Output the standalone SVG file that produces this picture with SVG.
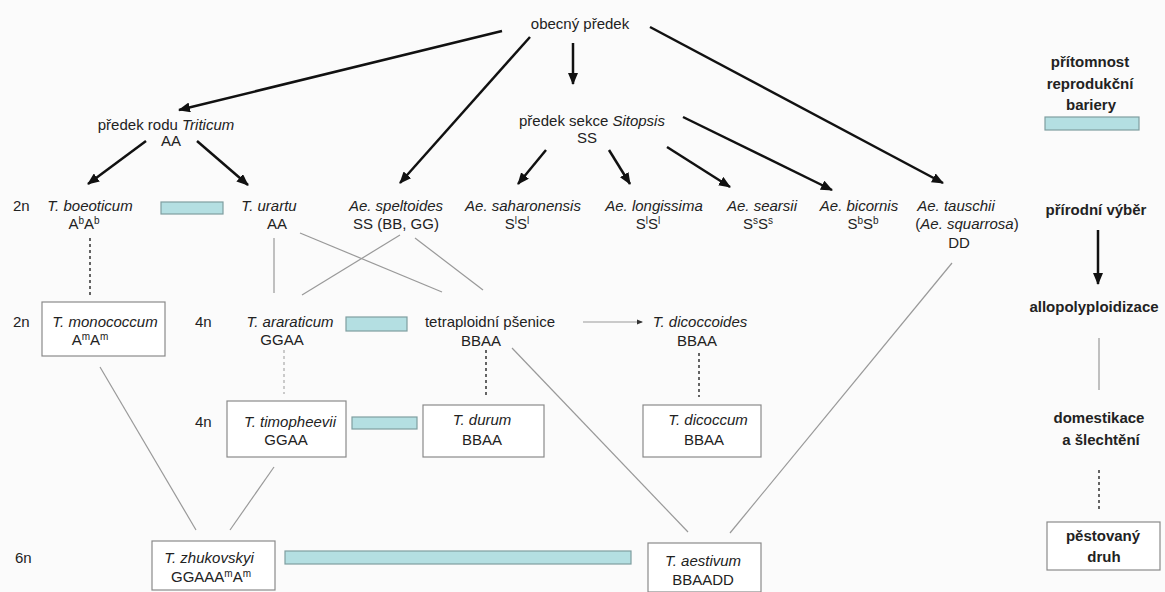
<svg xmlns="http://www.w3.org/2000/svg" width="1165" height="592" viewBox="0 0 1165 592">
<defs>
<marker id="ah" markerUnits="userSpaceOnUse" markerWidth="12" markerHeight="10" refX="11" refY="5" orient="auto">
<path d="M0,0 L12,5 L0,10 z" fill="#111"/>
</marker>
<marker id="ahs" markerUnits="userSpaceOnUse" markerWidth="6" markerHeight="6" refX="5" refY="3" orient="auto">
<path d="M0,0.5 L6,3 L0,5.5 z" fill="#333"/>
</marker>
<style>
text{font-family:"Liberation Sans",Arial,sans-serif;font-size:15px;fill:#222;text-anchor:middle}
.l{text-anchor:start}
.i{font-style:italic}
.b{font-weight:bold;font-size:15px}
.thick{stroke:#111;stroke-width:2.5;fill:none;marker-end:url(#ah)}
.thin{stroke:#999;stroke-width:1.2;fill:none}
.dash{stroke:#333;stroke-width:1.5;stroke-dasharray:3 3;fill:none}
.dashl{stroke:#aaa;stroke-width:1.2;stroke-dasharray:3 3;fill:none}
.bar{fill:#b4dfe2;stroke:#7f9ea0;stroke-width:1.2}
.box{fill:#fff;stroke:#8a8a8a;stroke-width:1.2}
</style>
</defs>
<rect width="1165" height="592" fill="#fbfbfb"/>

<g id="connectors">
<line class="thick" x1="502" y1="31" x2="179" y2="110"/>
<line class="thick" x1="530" y1="37" x2="400" y2="183"/>
<line class="thick" x1="573" y1="43" x2="573" y2="84"/>
<line class="thick" x1="650" y1="27" x2="943" y2="183"/>
<line class="thick" x1="146" y1="141" x2="88" y2="184"/>
<line class="thick" x1="197" y1="141" x2="248" y2="185"/>
<line class="thick" x1="546" y1="150" x2="518" y2="184"/>
<line class="thick" x1="609" y1="150" x2="630" y2="184"/>
<line class="thick" x1="667" y1="147" x2="730" y2="187"/>
<line class="thick" x1="683" y1="117" x2="832" y2="190"/>
<line class="thick" x1="1098" y1="230" x2="1098" y2="284"/>

<line class="thin" x1="274" y1="238" x2="274" y2="293"/>
<line class="thin" x1="300" y1="233" x2="442" y2="292"/>
<line class="thin" x1="400" y1="235" x2="302" y2="295"/>
<line class="thin" x1="415" y1="238" x2="483" y2="290"/>
<line class="thin" x1="100" y1="367" x2="196" y2="530"/>
<line class="thin" x1="274" y1="467" x2="230" y2="530"/>
<line class="thin" x1="512" y1="348" x2="688" y2="532"/>
<line class="thin" x1="952" y1="263" x2="730" y2="533"/>
<line class="thin" x1="1099" y1="338" x2="1099" y2="390"/>
<line class="thin" x1="583" y1="322" x2="642" y2="322" style="marker-end:url(#ahs)"/>

<line class="dash" x1="90" y1="238" x2="90" y2="297"/>
<line class="dashl" x1="284" y1="350" x2="284" y2="394"/>
<line class="dash" x1="486" y1="350" x2="486" y2="397"/>
<line class="dash" x1="699" y1="353" x2="699" y2="397"/>
<line class="dash" x1="1099" y1="470" x2="1099" y2="512"/>
</g>

<g id="bars">
<rect class="bar" x="161" y="202" width="62" height="12"/>
<rect class="bar" x="346" y="317" width="61" height="14"/>
<rect class="bar" x="352" y="417" width="65" height="12"/>
<rect class="bar" x="285" y="551" width="346" height="13"/>
</g>

<g id="ploidy">
<text class="l" x="13" y="211">2n</text>
<text class="l" x="13" y="327">2n</text>
<text class="l" x="195" y="327">4n</text>
<text class="l" x="195" y="427">4n</text>
<text class="l" x="15" y="563">6n</text>
</g>

<g id="n-obecny"><text x="580" y="29">obecný předek</text></g>
<g id="n-triticum"><text x="166" y="130">předek rodu <tspan class="i">Triticum</tspan></text><text x="171" y="146">AA</text></g>
<g id="n-sitopsis"><text x="592" y="126">předek sekce <tspan class="i">Sitopsis</tspan></text><text x="587" y="143">SS</text></g>

<g id="n-boeoticum"><text class="i" x="90" y="211">T. boeoticum</text><text x="84" y="229">A<tspan font-size="10" dy="-5">b</tspan><tspan dy="5">A</tspan><tspan font-size="10" dy="-5">b</tspan></text></g>
<g id="n-urartu"><text class="i" x="269" y="211">T. urartu</text><text x="277" y="229">AA</text></g>
<g id="n-speltoides"><text class="i" x="396" y="211">Ae. speltoides</text><text x="396" y="229">SS (BB, GG)</text></g>
<g id="n-saharonensis"><text class="i" x="523" y="211">Ae. saharonensis</text><text x="517" y="229">S<tspan font-size="10" dy="-5">l</tspan><tspan dy="5">S</tspan><tspan font-size="10" dy="-5">l</tspan></text></g>
<g id="n-longissima"><text class="i" x="654" y="211">Ae. longissima</text><text x="648" y="229">S<tspan font-size="10" dy="-5">l</tspan><tspan dy="5">S</tspan><tspan font-size="10" dy="-5">l</tspan></text></g>
<g id="n-searsii"><text class="i" x="762" y="211">Ae. searsii</text><text x="758" y="229">S<tspan font-size="10" dy="-5">s</tspan><tspan dy="5">S</tspan><tspan font-size="10" dy="-5">s</tspan></text></g>
<g id="n-bicornis"><text class="i" x="859" y="211">Ae. bicornis</text><text x="863" y="229">S<tspan font-size="10" dy="-5">b</tspan><tspan dy="5">S</tspan><tspan font-size="10" dy="-5">b</tspan></text></g>
<g id="n-tauschii"><text class="i" x="956" y="211">Ae. tauschii</text><text x="967" y="229">(<tspan class="i">Ae. squarrosa</tspan>)</text><text x="959" y="248">DD</text></g>

<g id="n-monococcum"><rect class="box" x="42" y="302" width="123" height="54"/><text class="i" x="105" y="327">T. monococcum</text><text x="90" y="345">A<tspan font-size="10" dy="-5">m</tspan><tspan dy="5">A</tspan><tspan font-size="10" dy="-5">m</tspan></text></g>
<g id="n-araraticum"><text class="i" x="290" y="327">T. araraticum</text><text x="282" y="345">GGAA</text></g>
<g id="n-tetraploidni"><text x="490" y="327">tetraploidní pšenice</text><text x="481" y="346">BBAA</text></g>
<g id="n-dicoccoides"><text class="i" x="700" y="327">T. dicoccoides</text><text x="697" y="346">BBAA</text></g>

<g id="n-timopheevii"><rect class="box" x="227" y="401" width="119" height="56"/><text class="i" x="290" y="427">T. timopheevii</text><text x="286" y="445">GGAA</text></g>
<g id="n-durum"><rect class="box" x="423" y="405" width="121" height="52"/><text class="i" x="482" y="425">T. durum</text><text x="482" y="445">BBAA</text></g>
<g id="n-dicoccum"><rect class="box" x="643" y="405" width="118" height="52"/><text class="i" x="708" y="425">T. dicoccum</text><text x="704" y="445">BBAA</text></g>

<g id="n-zhukovskyi"><rect class="box" x="152" y="541" width="123" height="49"/><text class="i" x="209" y="563">T. zhukovskyi</text><text x="211" y="582">GGAAA<tspan font-size="10" dy="-5">m</tspan><tspan dy="5">A</tspan><tspan font-size="10" dy="-5">m</tspan></text></g>
<g id="n-aestivum"><rect class="box" x="648" y="543" width="113" height="49"/><text class="i" x="703" y="566">T. aestivum</text><text x="703" y="585">BBAADD</text></g>

<g id="legend">
<text class="b" x="1090" y="67">přítomnost</text>
<text class="b" x="1090" y="89">reprodukční</text>
<text class="b" x="1091" y="110">bariery</text>
<rect class="bar" x="1045" y="117" width="94" height="13"/>
<text class="b" x="1096" y="215">přírodní výběr</text>
<text class="b" x="1094" y="312">allopolyploidizace</text>
<text class="b" x="1099" y="423">domestikace</text>
<text class="b" x="1101" y="445">a šlechtění</text>
<rect class="box" x="1047" y="522" width="113" height="48"/>
<text class="b" x="1103" y="541">pěstovaný</text>
<text class="b" x="1104" y="562">druh</text>
</g>
</svg>
